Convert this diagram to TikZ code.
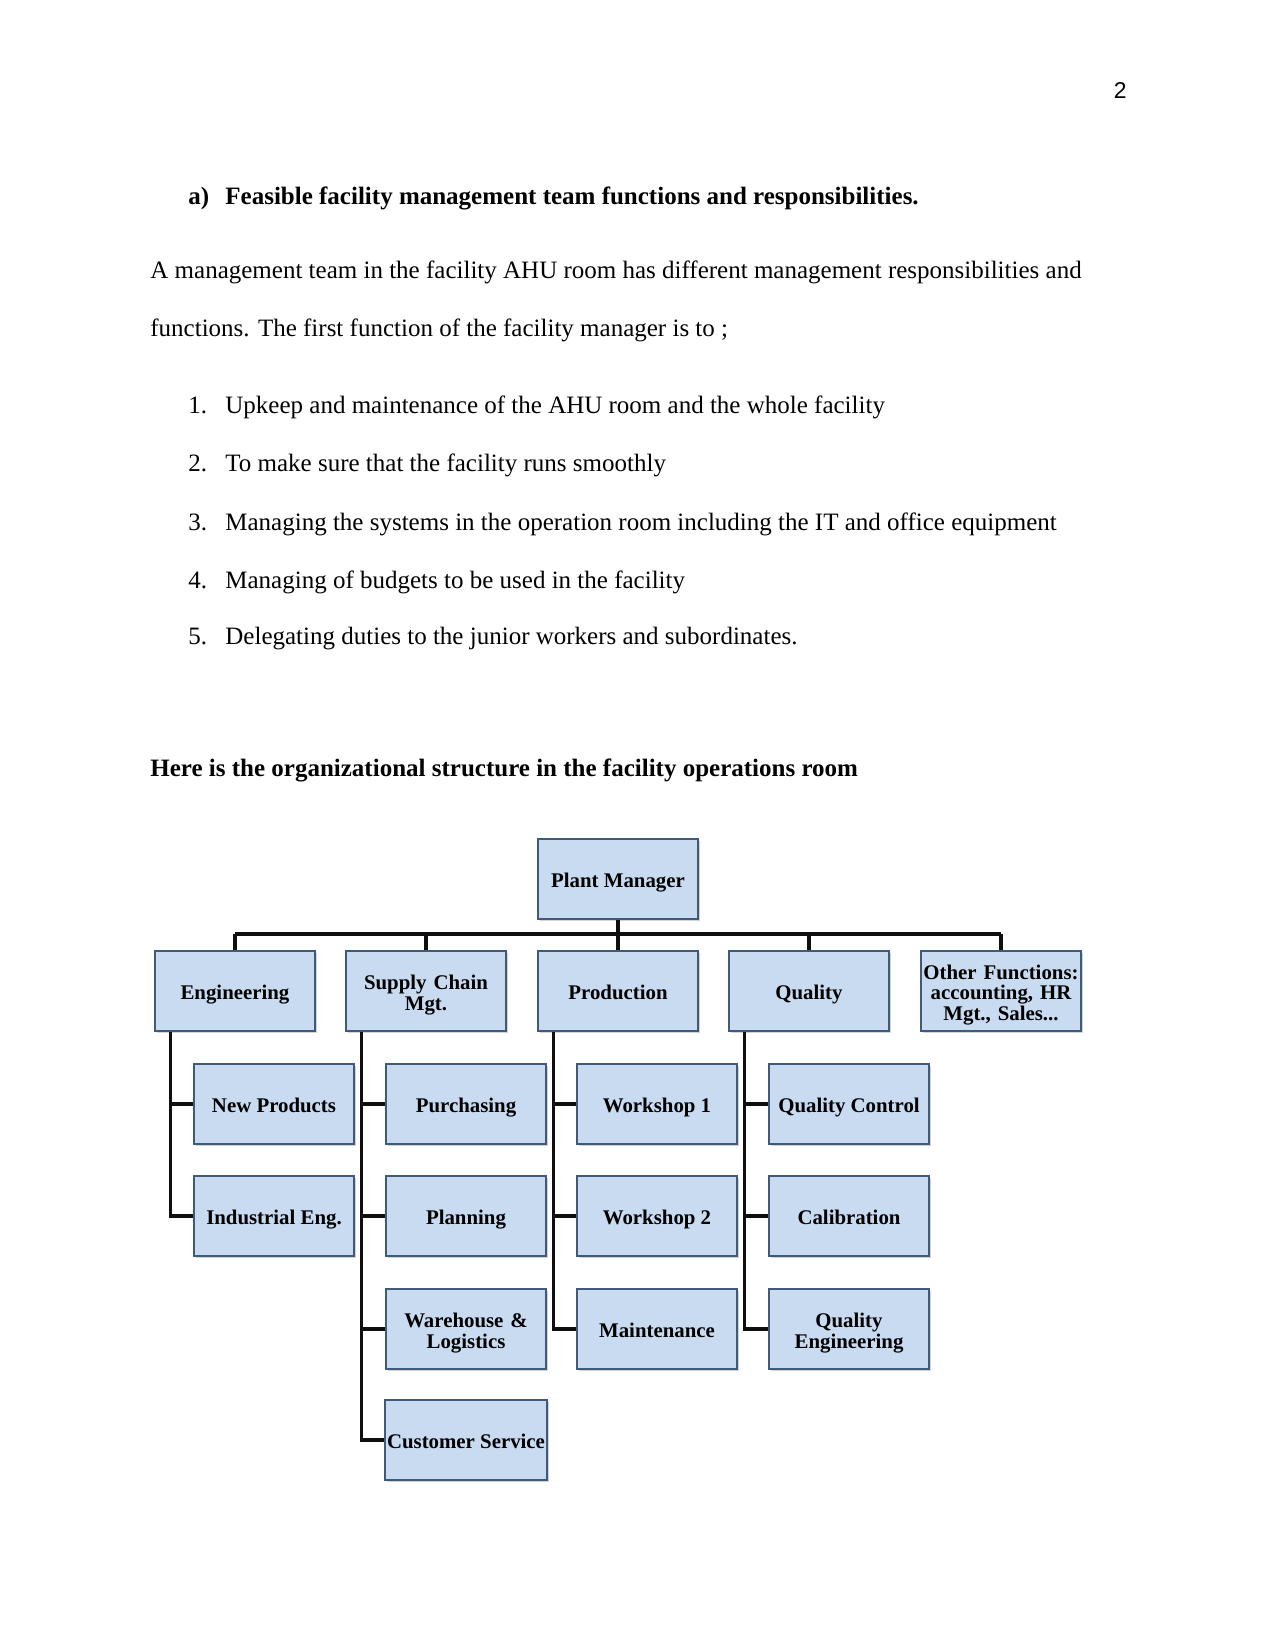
\documentclass[tikz,border=0pt]{standalone}
\usepackage{fontspec}
\setmainfont{Liberation Serif}
\newfontfamily\pagenumfont{Liberation Sans}
\usetikzlibrary{calc,shadows}
\setlength\parindent{0pt}
\definecolor{BoxFill}{RGB}{200,219,241}
\definecolor{BoxBorder}{RGB}{64,90,122}
\definecolor{LineBlack}{RGB}{15,15,15}
\newcommand\boxstrut{\rule{0pt}{11.2pt}}
\newcommand\boxstrutend{\rule[-2.6pt]{0pt}{2.6pt}}
\tikzset{
  orgbox/.style={draw=BoxBorder, fill=BoxFill, line width=1.3pt, align=center,
                font=\fontsize{10}{10}\selectfont\bfseries, inner sep=1pt,
                minimum width=76.8pt, minimum height=38.4pt,
                execute at begin node=\boxstrut, execute at end node=\boxstrutend,
                drop shadow={shadow xshift=0.8pt, shadow yshift=-0.8pt, opacity=0.35}},
  multiline/.style={text width=74.8pt},
  orgline/.style={draw=LineBlack, line width=1.5pt},
  bodytext/.style={font=\fontsize{12}{14}\selectfont, inner sep=0pt, anchor=base west},
}
\begin{document}
\begin{tikzpicture}[x=0.48pt, y=-0.48pt]
  \useasboundingbox (0,0) rectangle (1275,1650);

  % page text
  \node[bodytext, anchor=base east, font=\pagenumfont\fontsize{11}{13}\selectfont] (pagenum) at (1127,99) {2};
  \node[bodytext, font=\fontsize{12}{14}\selectfont\bfseries] (heada) at (188,205) {a)};
  \node[bodytext, font=\fontsize{12}{14}\selectfont\bfseries] (headtxt) at (225,205) {Feasible facility management team functions and responsibilities.};
  \node[bodytext] (parone) at (150,279) {A management team in the facility AHU room has different management responsibilities and};
  \node[bodytext] (partwo) at (150,337) {functions. The first function of the facility manager is to ;};

  \node[bodytext] (numa) at (188,414) {1.};
  \node[bodytext] (itema) at (225,414) {Upkeep and maintenance of the AHU room and the whole facility};
  \node[bodytext] (numb) at (188,472) {2.};
  \node[bodytext] (itemb) at (225,472) {To make sure that the facility runs smoothly};
  \node[bodytext] (numc) at (188,530) {3.};
  \node[bodytext] (itemc) at (225,530) {Managing the systems in the operation room including the IT and office equipment};
  \node[bodytext] (numd) at (188,588) {4.};
  \node[bodytext] (itemd) at (225,588) {Managing of budgets to be used in the facility};
  \node[bodytext] (nume) at (188,644) {5.};
  \node[bodytext] (iteme) at (225,644) {Delegating duties to the junior workers and subordinates.};

  \node[bodytext, font=\fontsize{12}{14}\selectfont\bfseries] (orgtitle) at (150,776) {Here is the organizational structure in the facility operations room};

  % chart
  \node[orgbox] (plantmgr) at (618,879) {Plant Manager};

  \node[orgbox] (engineering) at (235,991)  {Engineering};
  \node[orgbox,multiline] (supplychain) at (426,991)  {Supply Chain\\Mgt.};
  \node[orgbox] (production)  at (618,991)  {Production};
  \node[orgbox] (quality)     at (809,991)  {Quality};
  \node[orgbox,multiline] (otherfunc)   at (1001,991) {Other Functions:\\accounting, HR\\Mgt., Sales...};

  \node[orgbox] (newprod) at (274,1104) {New Products};
  \node[orgbox] (indeng)  at (274,1216) {Industrial Eng.};

  \node[orgbox] (purchasing)  at (466,1104) {Purchasing};
  \node[orgbox] (planning)    at (466,1216) {Planning};
  \node[orgbox,multiline] (warehouse)   at (466,1329) {Warehouse \&\\Logistics};
  \node[orgbox] (custservice) at (466,1440) {Customer Service};

  \node[orgbox] (workshopa)   at (657,1104) {Workshop 1};
  \node[orgbox] (workshopb)   at (657,1216) {Workshop 2};
  \node[orgbox] (maintenance) at (657,1329) {Maintenance};

  \node[orgbox] (qualcontrol) at (849,1104) {Quality Control};
  \node[orgbox] (calibration) at (849,1216) {Calibration};
  \node[orgbox,multiline] (qualeng)     at (849,1329) {Quality\\Engineering};

  \coordinate (bus) at (618,934);
  \draw[orgline] (plantmgr.south) -- (plantmgr.south |- bus);
  \draw[orgline] (engineering.north |- bus) -- (otherfunc.north |- bus);
  \foreach \n in {engineering,supplychain,production,quality,otherfunc}
    \draw[orgline] (\n.north |- bus) -- (\n.north);

  \foreach \p/\c in {engineering/newprod, engineering/indeng,
                     supplychain/purchasing, supplychain/planning, supplychain/warehouse, supplychain/custservice,
                     production/workshopa, production/workshopb, production/maintenance,
                     quality/qualcontrol, quality/calibration, quality/qualeng}
    \draw[orgline] ($(\p.south west)+(17,0)$) |- (\c.west);

\end{tikzpicture}
\end{document}
